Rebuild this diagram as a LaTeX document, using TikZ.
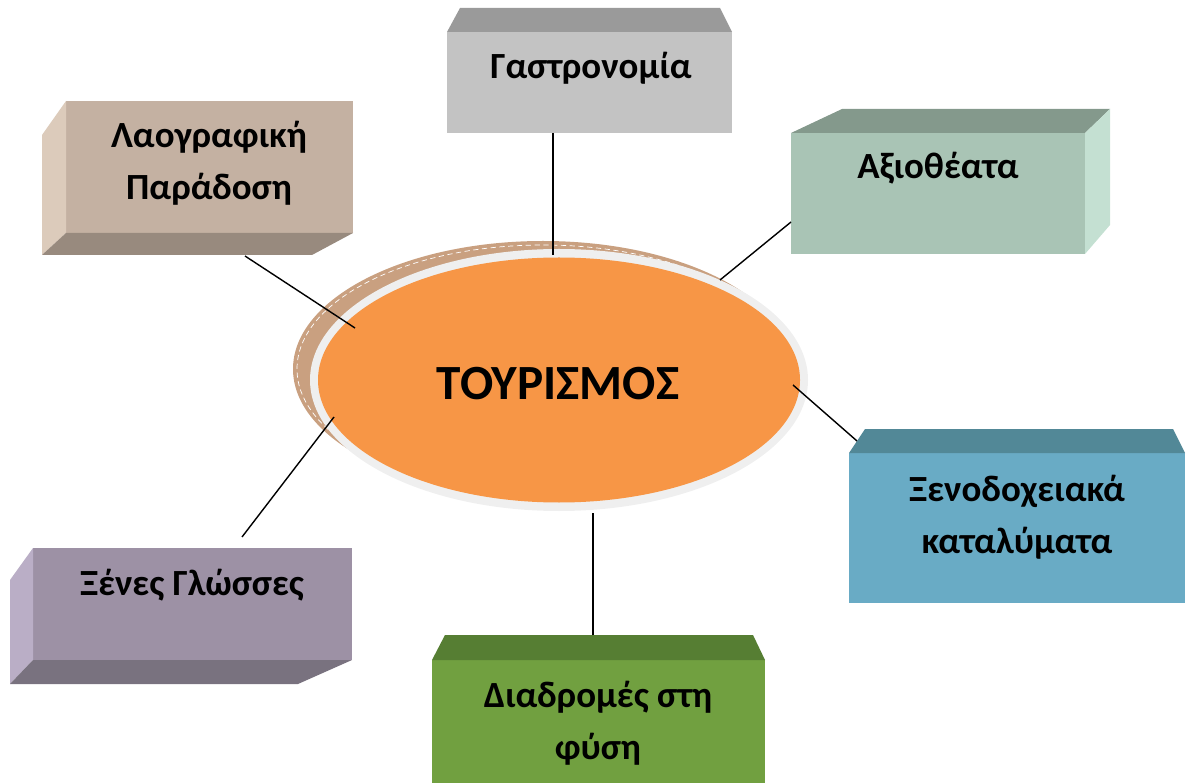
\documentclass[tikz,border=0pt]{standalone}
\usepackage{fontspec}
\setmainfont{Carlito}
\usepackage{xcolor}
\usetikzlibrary{shapes.geometric, calc}

\definecolor{laoF}{HTML}{C4B1A2}
\definecolor{laoS}{HTML}{DCCBBB}
\definecolor{laoB}{HTML}{988A7E}
\definecolor{gasF}{HTML}{C3C3C3}
\definecolor{gasT}{HTML}{9A9A9A}
\definecolor{axiF}{HTML}{A9C4B5}
\definecolor{axiT}{HTML}{84998C}
\definecolor{axiS}{HTML}{C4E0D2}
\definecolor{xenF}{HTML}{69ABC5}
\definecolor{xenT}{HTML}{528897}
\definecolor{xglF}{HTML}{9D91A5}
\definecolor{xglS}{HTML}{BAAEC6}
\definecolor{xglB}{HTML}{79727F}
\definecolor{diaF}{HTML}{71A040}
\definecolor{diaT}{HTML}{567E33}
\definecolor{turF}{HTML}{F79646}
\definecolor{turR}{HTML}{EFEFEF}
\definecolor{turS}{HTML}{C9A080}

\begin{document}
\begin{tikzpicture}[
    x=0.02cm, y=-0.02cm,
    face/.style={rectangle, inner sep=0pt, outer sep=0pt},
    lbl/.style={font=\fontsize{21}{29.5}\selectfont\bfseries, align=center, inner sep=0pt},
    link/.style={line width=0.8pt, black}
]
\useasboundingbox (0,0) rectangle (1189,783);

% κεντρική έλλειψη
\fill[turS] (543,369) ellipse [x radius=250, y radius=128];
\draw[white, densely dashed, line width=0.4pt] (543,369) ellipse [x radius=246, y radius=124];
\fill[turR] (559,380) ellipse [x radius=249, y radius=131];
\node[ellipse, fill=turF, inner sep=0pt, minimum width=482*0.02cm, minimum height=245*0.02cm] (tur) at (559,380) {};
\node[font=\fontsize{28}{32}\selectfont\bfseries] (tur-t) at (558,384) {ΤΟΥΡΙΣΜΟΣ};

% Λαογραφική Παράδοση
\node[face, fill=laoF, minimum width=287*0.02cm, minimum height=132*0.02cm] (lao) at (209.5,167) {};
\fill[laoS] (lao.north west) -- ++(-24,34) -- ++(0,120) -- (lao.south west) -- cycle;
\fill[laoB] (lao.south west) -- (lao.south east) -- ++(-41,22) -- ++(-270,0) -- cycle;
\node[lbl] (lao-t) at (209,163) {Λαογραφική\\Παράδοση};

% Γαστρονομία
\node[face, fill=gasF, minimum width=285*0.02cm, minimum height=101*0.02cm] (gas) at (589.5,82.5) {};
\fill[gasT] (gas.north west) -- ++(13,-24) -- ++(260,0) -- (gas.north east) -- cycle;
\node[lbl] (gas-t) at (591,68) {Γαστρονομία};

% Αξιοθέατα
\node[face, fill=axiF, minimum width=294*0.02cm, minimum height=121*0.02cm] (axi) at (938,193.5) {};
\fill[axiT] (axi.north west) -- ++(51,-24) -- ++(268,0) -- (axi.north east) -- cycle;
\fill[axiS] (axi.north east) -- ++(25,-24) -- ++(0,116) -- (axi.south east) -- cycle;
\node[lbl] (axi-t) at (938,168) {Αξιοθέατα};

% Ξενοδοχειακά καταλύματα
\node[face, fill=xenF, minimum width=336*0.02cm, minimum height=150*0.02cm] (xen) at (1017,528) {};
\fill[xenT] (xen.north west) -- ++(16,-24) -- ++(308,0) -- (xen.north east) -- cycle;
\node[lbl] (xen-t) at (1017,517) {Ξενοδοχειακά\\καταλύματα};

% Ξένες Γλώσσες
\node[face, fill=xglF, minimum width=319*0.02cm, minimum height=112*0.02cm] (xgl) at (192.5,604) {};
\fill[xglS] (xgl.north west) -- ++(-23,32) -- ++(0,104) -- (xgl.south west) -- cycle;
\fill[xglB] (xgl.south west) -- (xgl.south east) -- ++(-54,24) -- ++(-288,0) -- cycle;
\node[lbl] (xgl-t) at (192,585) {Ξένες Γλώσσες};

% Διαδρομές στη φύση
\node[face, fill=diaF, minimum width=333*0.02cm, minimum height=130*0.02cm] (dia) at (598.5,725) {};
\fill[diaT] (dia.north west) -- ++(13,-25) -- ++(308,0) -- (dia.north east) -- cycle;
\node[lbl] (dia-t) at (598,723) {Διαδρομές στη\\φύση};

% σημεία σύνδεσης
\coordinate (lao-e) at (245,256);
\coordinate (tur-a) at (355,328);
\coordinate (gas-e) at (553,133);
\coordinate (tur-b) at (553,255);
\coordinate (axi-e) at (791,222);
\coordinate (tur-c) at (720,280);
\coordinate (xen-e) at (857,441);
\coordinate (tur-d) at (793,385);
\coordinate (xgl-e) at (242,537);
\coordinate (tur-e) at (334,417);
\coordinate (dia-e) at (593,635);
\coordinate (tur-f) at (593,513);

% γραμμές
\draw[link] (lao-e) -- (tur-a);
\draw[link] (gas-e) -- (tur-b);
\draw[link] (axi-e) -- (tur-c);
\draw[link] (xen-e) -- (tur-d);
\draw[link] (xgl-e) -- (tur-e);
\draw[link] (dia-e) -- (tur-f);
\end{tikzpicture}
\end{document}
